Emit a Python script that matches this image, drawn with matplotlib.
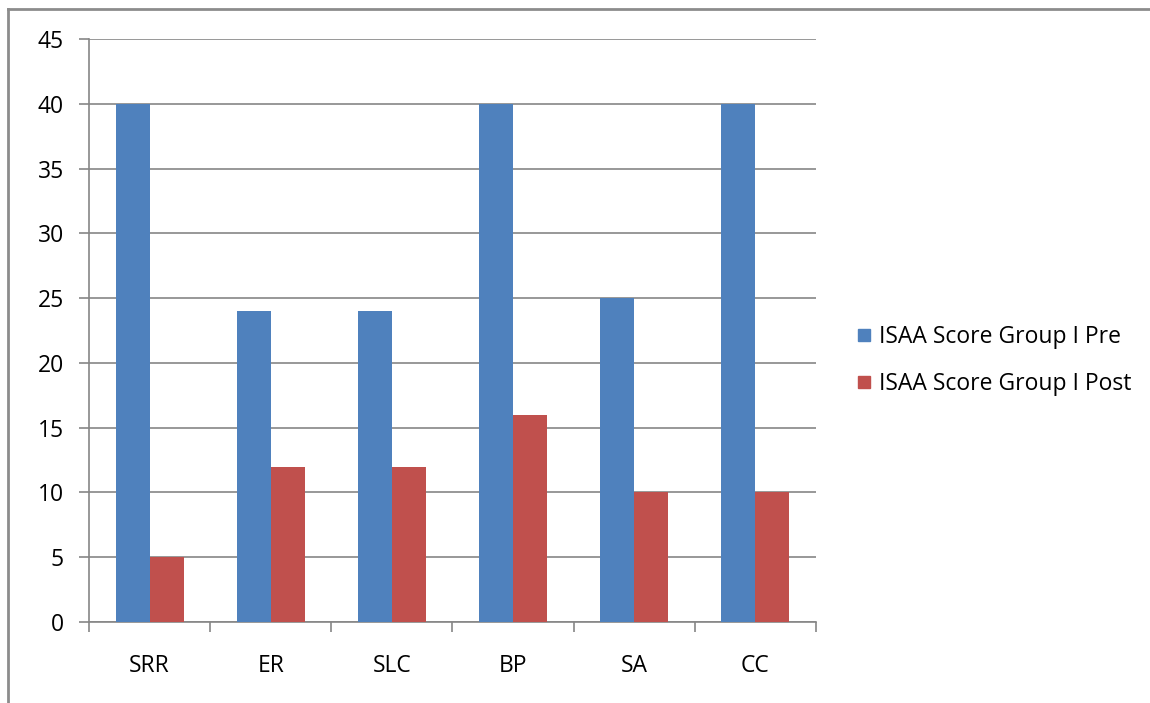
import numpy as np
import matplotlib.pyplot as plt
from matplotlib.lines import Line2D
from matplotlib.patches import Rectangle

categories = ['SRR', 'ER', 'SLC', 'BP', 'SA', 'CC']
pre_scores = [40, 24, 24, 40, 25, 40]
post_scores = [5, 12, 12, 16, 10, 10]
series_names = ['ISAA Score Group I Pre', 'ISAA Score Group I Post']

BLUE = '#4F81BD'
RED = '#C0504D'
GRID = '#868686'
FS = 16.5

plt.rcParams['font.family'] = ['Open Sans', 'DejaVu Sans']

fig = plt.figure(figsize=(11.5, 7.03), dpi=100)
ax = fig.add_axes([89 / 1150, 1 - 622 / 703, 727 / 1150, 583 / 703])

x = np.arange(len(categories))
w = 0.28
ax.bar(x - w / 2, pre_scores, w, color=BLUE, zorder=3)
ax.bar(x + w / 2, post_scores, w, color=RED, zorder=3)

ax.set_xlim(-0.5, len(categories) - 0.5)
ax.set_ylim(0, 45)
ax.set_yticks(range(0, 46, 5))
ax.yaxis.grid(True, color=GRID, linewidth=1.2, zorder=0)
ax.set_axisbelow(True)

ax.set_xticks(x)
ax.set_xticklabels(categories)
ax.set_xticks(np.arange(-0.5, len(categories)), minor=True)
ax.tick_params(axis='x', which='major', length=0, pad=23, labelsize=FS)
ax.tick_params(axis='x', which='minor', length=7, color=GRID, width=1.2)
ax.tick_params(axis='y', length=7, color=GRID, width=1.2, pad=11, labelsize=FS)

for side in ['top', 'right']:
    ax.spines[side].set_visible(False)
for side in ['left', 'bottom']:
    ax.spines[side].set_color(GRID)
    ax.spines[side].set_linewidth(1.2)

# legend drawn by hand on the right
for i, (name, col) in enumerate(zip(series_names, [BLUE, RED])):
    yc = 1 - (335 + 47 * i) / 703
    fig.add_artist(Rectangle((858 / 1150, yc - 6 / 703), 12 / 1150, 12 / 703,
                             transform=fig.transFigure, color=col))
    fig.text(879 / 1150, yc - 2 / 703, name, fontsize=FS, va='center', ha='left')

# outer chart frame
fig.add_artist(Line2D([8 / 1150, 1], [1 - 9 / 703] * 2, color='#8C8C8C', linewidth=2))
fig.add_artist(Line2D([8 / 1150] * 2, [0, 1 - 9 / 703], color='#8C8C8C', linewidth=2))

fig.savefig('out.png', dpi=100)
